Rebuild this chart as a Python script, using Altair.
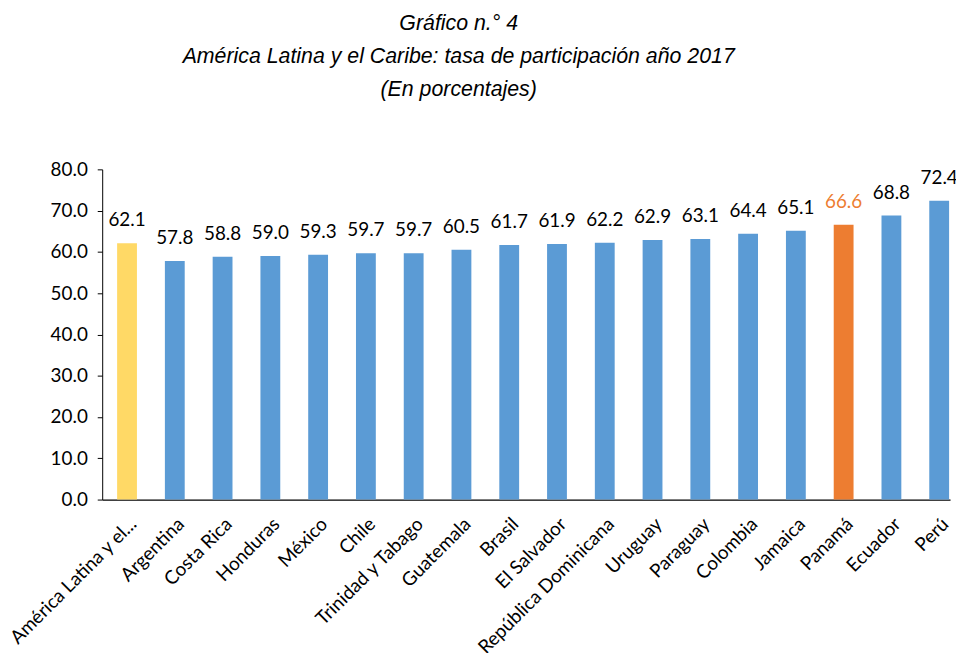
import altair as alt
import pandas as pd

countries = ["América Latina y el...", "Argentina", "Costa Rica", "Honduras", "México", "Chile",
             "Trinidad y Tabago", "Guatemala", "Brasil", "El Salvador", "República Dominicana",
             "Uruguay", "Paraguay", "Colombia", "Jamaica", "Panamá", "Ecuador", "Perú"]
values = [62.1, 57.8, 58.8, 59.0, 59.3, 59.7, 59.7, 60.5, 61.7, 61.9, 62.2, 62.9, 63.1,
          64.4, 65.1, 66.6, 68.8, 72.4]
groups = ["region"] + ["pais"] * 14 + ["panama"] + ["pais"] * 2

df = pd.DataFrame({"pais": countries, "valor": values, "grupo": groups})

x = alt.X("pais:N", sort=countries, title=None,
          scale=alt.Scale(paddingInner=0.585, paddingOuter=0.166, align=0.94),
          axis=alt.Axis(labelAngle=-45, labelFont="Lato", labelFontSize=19, labelColor="#000000",
                        ticks=False, domainColor="#000000", domainWidth=1.2, labelPadding=15,
                        labelLimit=400))
y = alt.Y("valor:Q", title=None,
          scale=alt.Scale(domain=[0, 80]),
          axis=alt.Axis(values=[0, 10, 20, 30, 40, 50, 60, 70, 80], format=".1f", grid=False,
                        labelFont="Lato", labelFontSize=19, labelColor="#000000",
                        domainColor="#000000", tickColor="#000000", tickSize=5,
                        labelPadding=10))

bars = alt.Chart(df).mark_bar().encode(
    x=x, y=y,
    color=alt.Color("grupo:N", legend=None,
                    scale=alt.Scale(domain=["region", "pais", "panama"],
                                    range=["#FFD966", "#5B9BD5", "#ED7D31"])),
)

labels = alt.Chart(df).mark_text(baseline="alphabetic", dy=-17, font="Lato", fontSize=19).encode(
    x=alt.X("pais:N", sort=countries),
    y="valor:Q",
    text=alt.Text("valor:Q", format=".1f"),
    color=alt.condition(alt.datum.grupo == "panama", alt.value("#ED7D31"), alt.value("#000000")),
)

chart = (bars + labels).properties(
    width=855, height=333,
    autosize=alt.AutoSizeParams(type="none"),
    padding={"left": 95, "top": 160, "right": 6, "bottom": 152},
    title=alt.Title(
        text=["Gráfico n.° 4", "América Latina y el Caribe: tasa de participación año 2017",
              "(En porcentajes)"],
        font="Liberation Sans", fontSize=21.5, fontStyle="italic", fontWeight="normal",
        color="#000000", lineHeight=33.5, anchor="middle", frame="group", offset=60, dx=-68,
    ),
).configure_view(stroke=None)

chart.save("out.html", embed_options={"renderer": "svg", "actions": False})
